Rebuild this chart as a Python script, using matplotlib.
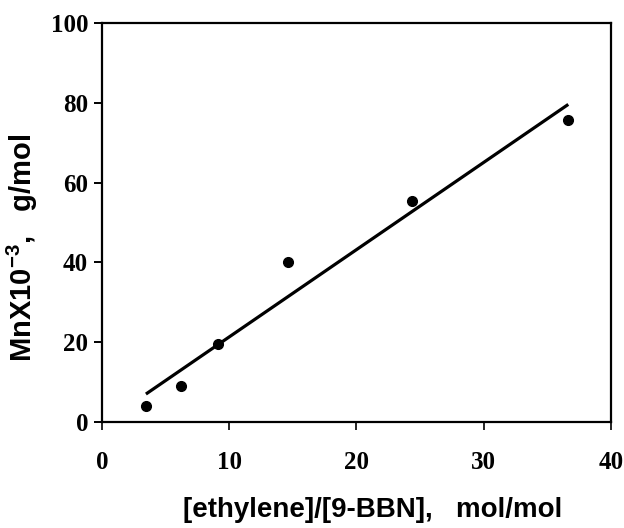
import numpy as np
import matplotlib
matplotlib.use('Agg')
import matplotlib.pyplot as plt

# measured points
ratio = [3.45, 6.2, 9.1, 14.65, 24.4, 36.6]        # [ethylene]/[9-BBN]
mn = [4.1, 9.0, 19.5, 40.2, 55.3, 75.6]             # Mn x 10^-3
# fitted straight line (drawn between first and last point)
fit_x = [3.45, 36.65]
fit_y = [7.0, 79.6]

xticks = [0, 10, 20, 30, 40]
yticks = [0, 20, 40, 60, 80, 100]

plt.rcParams['mathtext.fontset'] = 'custom'
plt.rcParams['mathtext.rm'] = 'Liberation Sans:bold'
plt.rcParams['mathtext.bf'] = 'Liberation Sans:bold'

fig = plt.figure(figsize=(6.24, 5.28), dpi=100)
ax = fig.add_axes([0.1635, 0.2008, 0.8155, 0.7556])

ax.plot(fit_x, fit_y, color='black', lw=2.3, solid_capstyle='butt')
ax.plot(ratio, mn, 'o', color='black', ms=7)

ax.set_xlim(0, 40)
ax.set_ylim(0, 100)
ax.set_xticks(xticks)
ax.set_yticks(yticks)
for s in ax.spines.values():
    s.set_linewidth(1.6)

ax.tick_params(axis='y', direction='out', length=6, width=1.4, pad=4)
ax.tick_params(axis='x', direction='out', length=6, width=1.2, pad=15)
for lab in ax.get_xticklabels() + ax.get_yticklabels():
    lab.set_fontfamily('Liberation Serif')
    lab.set_fontweight('bold')
    lab.set_fontsize(18)

ax.set_xlabel('[ethylene]/[9-BBN],   mol/mol', fontfamily='Liberation Sans',
              fontweight='bold', fontsize=20, va='center')
ax.set_ylabel(r'MnX10$^{-3}$,   g/mol', fontfamily='Liberation Sans',
              fontweight='bold', fontsize=21, va='center')
ax.xaxis.set_label_coords(0.532, -0.22)
ax.yaxis.set_label_coords(-0.157, 0.436)

fig.savefig('out.png', dpi=100)
